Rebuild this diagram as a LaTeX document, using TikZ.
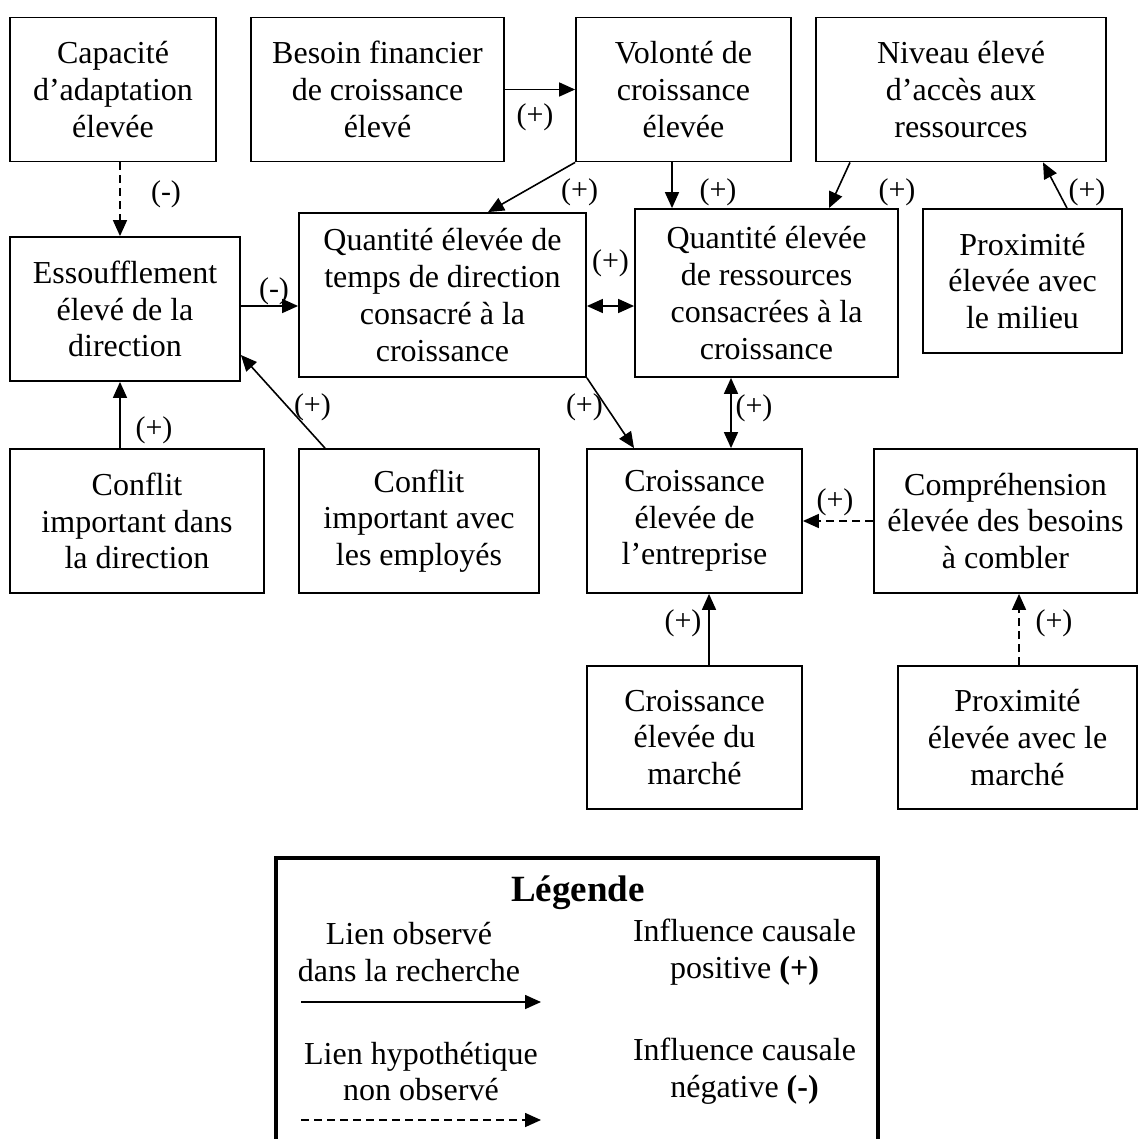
\documentclass[tikz,border=0pt]{standalone}
\usepackage{fontspec}
\setmainfont{Liberation Serif}
\usetikzlibrary{arrows.meta}

\begin{document}
\begin{tikzpicture}[
  x=0.5pt,y=-0.5pt,
  font=\fontsize{16pt}{18.4pt}\selectfont,
  >={Triangle[length=8pt,width=7pt]},
  factor/.style={draw,line width=0.9pt,align=center,inner sep=0pt,minimum height=72pt},
  effect/.style={inner sep=0pt,font=\fontsize{15pt}{17pt}\selectfont},
  obs/.style={->,line width=0.8pt},
  hyp/.style={->,line width=0.8pt,dash pattern=on 4pt off 2.5pt},
  mutual/.style={<->,line width=0.8pt}
]
  \useasboundingbox (0,0) rectangle (1138,1139);

  % top row
  \node[factor,minimum width=103pt] (capacite) at (113,89.5) {Capacité\\d’adaptation\\élevée};
  \node[factor,minimum width=126.5pt] (besoin) at (377.5,89.5) {Besoin financier\\de croissance\\élevé};
  \node[factor,minimum width=107.5pt] (volonte) at (683.5,89.5) {Volonté de\\croissance\\élevée};
  \node[factor,minimum width=145pt] (acces) at (961,89.5) {Niveau élevé\\d’accès aux\\ressources};

  % second row
  \node[factor,minimum width=115pt] (essouff) at (125,309) {Essoufflement\\élevé de la\\direction};
  \node[factor,minimum width=143.5pt,minimum height=82pt] (temps) at (442.5,295)
    {Quantité élevée de\\temps de direction\\consacré à la\\croissance};
  \node[factor,minimum width=131.5pt,minimum height=84pt] (ressources) at (766.5,293)
    {Quantité élevée\\de ressources\\consacrées à la\\croissance};
  \node[factor,minimum width=99.5pt] (milieu) at (1022.5,281) {Proximité\\élevée avec\\le milieu};

  % third row
  \node[factor,minimum width=127pt] (conflitdir) at (137,521) {Conflit\\important dans\\la direction};
  \node[factor,minimum width=120pt] (conflitemp) at (419,521) {Conflit\\important avec\\les employés};
  \node[factor,minimum width=107.5pt] (croissance) at (694.5,521) {Croissance\\élevée de\\l’entreprise};
  \node[factor,minimum width=131.5pt] (besoins) at (1005.5,521) {Compréhension\\élevée des besoins\\à combler};

  % bottom row
  \node[factor,minimum width=107.5pt,minimum height=71.5pt] (marche) at (694.5,737.5) {Croissance\\élevée du\\marché};
  \node[factor,minimum width=119.5pt,minimum height=71.5pt] (proxmarche) at (1017.5,737.5) {Proximité\\élevée avec le\\marché};

  % links
  \draw[hyp] ([xshift=3.5pt]capacite.south) -- ([xshift=3.5pt]capacite.south |- essouff.north)
    node[effect,midway,shift={(46,-4.5)}] {(-)};
  \draw[obs] (besoin) -- (volonte) node[effect,midway,shift={(-5,27.5)}] {(+)};
  \draw[obs] (volonte.south west) -- ([xshift=22.75pt]temps.north)
    node[effect,midway,shift={(48,5.5)}] {(+)};
  \draw[obs] ([xshift=-5.75pt]volonte.south) -- ([xshift=-5.75pt]volonte.south |- ressources.north)
    node[effect,midway,shift={(46,7.5)}] {(+)};
  \draw[obs] ([xshift=-55.5pt]acces.south) -- ([xshift=31.25pt]ressources.north)
    node[effect,midway,shift={(57.5,7.5)}] {(+)};
  \draw[obs] ([xshift=22.25pt]milieu.north) -- ([xshift=41pt]acces.south)
    node[effect,midway,shift={(32,7.5)}] {(+)};
  \draw[obs] ([yshift=1.5pt]essouff.east) -- ([yshift=1.5pt]essouff.east -| temps.west)
    node[effect,midway,shift={(4.5,-15)}] {(-)};
  \draw[mutual] ([yshift=-5.5pt]temps.east) -- ([yshift=-5.5pt]temps.east -| ressources.west)
    node[effect,midway,shift={(0,-43)}] {(+)};
  \draw[obs] ([xshift=-8.5pt]conflitdir.north) -- ([xshift=-8.5pt]conflitdir.north |- essouff.south)
    node[effect,midway,shift={(34,15)}] {(+)};
  \draw[obs] ([xshift=-47pt]conflitemp.north) -- ([yshift=-23pt]essouff.east)
    node[effect,midway,shift={(29.5,6)}] {(+)};
  \draw[obs] (temps.south east) -- ([xshift=-30.25pt]croissance.north)
    node[effect,midway,shift={(-26,-6)}] {(+)};
  \draw[mutual] ([xshift=-17.75pt]ressources.south) -- ([xshift=-17.75pt]ressources.south |- croissance.north)
    node[effect,midway,shift={(23,-5)}] {(+)};
  \draw[hyp] (besoins) -- (croissance) node[effect,midway,shift={(-3,-19)}] {(+)};
  \draw[obs] ([xshift=7.25pt]marche.north) -- ([xshift=7.25pt]marche.north |- croissance.south)
    node[effect,midway,shift={(-26,-6.5)}] {(+)};
  \draw[hyp] ([xshift=0.75pt]proxmarche.north) -- ([xshift=0.75pt]proxmarche.north |- besoins.south)
    node[effect,midway,shift={(35,-6.5)}] {(+)};

  % legend
  \draw[line width=1.8pt] (276,1140) |- (878,858) -- (878,1140);
  \node[font=\fontsize{18.5pt}{21pt}\selectfont\bfseries] (legtitle) at (578,893) {Légende};
  \node[align=center,inner sep=0pt] (legobs) at (409,952) {Lien observé\\dans la recherche};
  \node[align=center,inner sep=0pt] (leghyp) at (421,1071.5) {Lien hypothétique\\non observé};
  \node[align=center,inner sep=0pt] (legpos) at (744.5,952) {Influence causale\\positive \textbf{(+)}};
  \node[align=center,inner sep=0pt] (legneg) at (744.5,1071.5) {Influence causale\\négative \textbf{(-)}};
  \coordinate (obsfrom) at (301,1002);
  \coordinate (obsto) at (541,1002);
  \coordinate (hypfrom) at (301,1120);
  \coordinate (hypto) at (541,1120);
  \draw[obs] (obsfrom) -- (obsto);
  \draw[hyp] (hypfrom) -- (hypto);
\end{tikzpicture}
\end{document}
